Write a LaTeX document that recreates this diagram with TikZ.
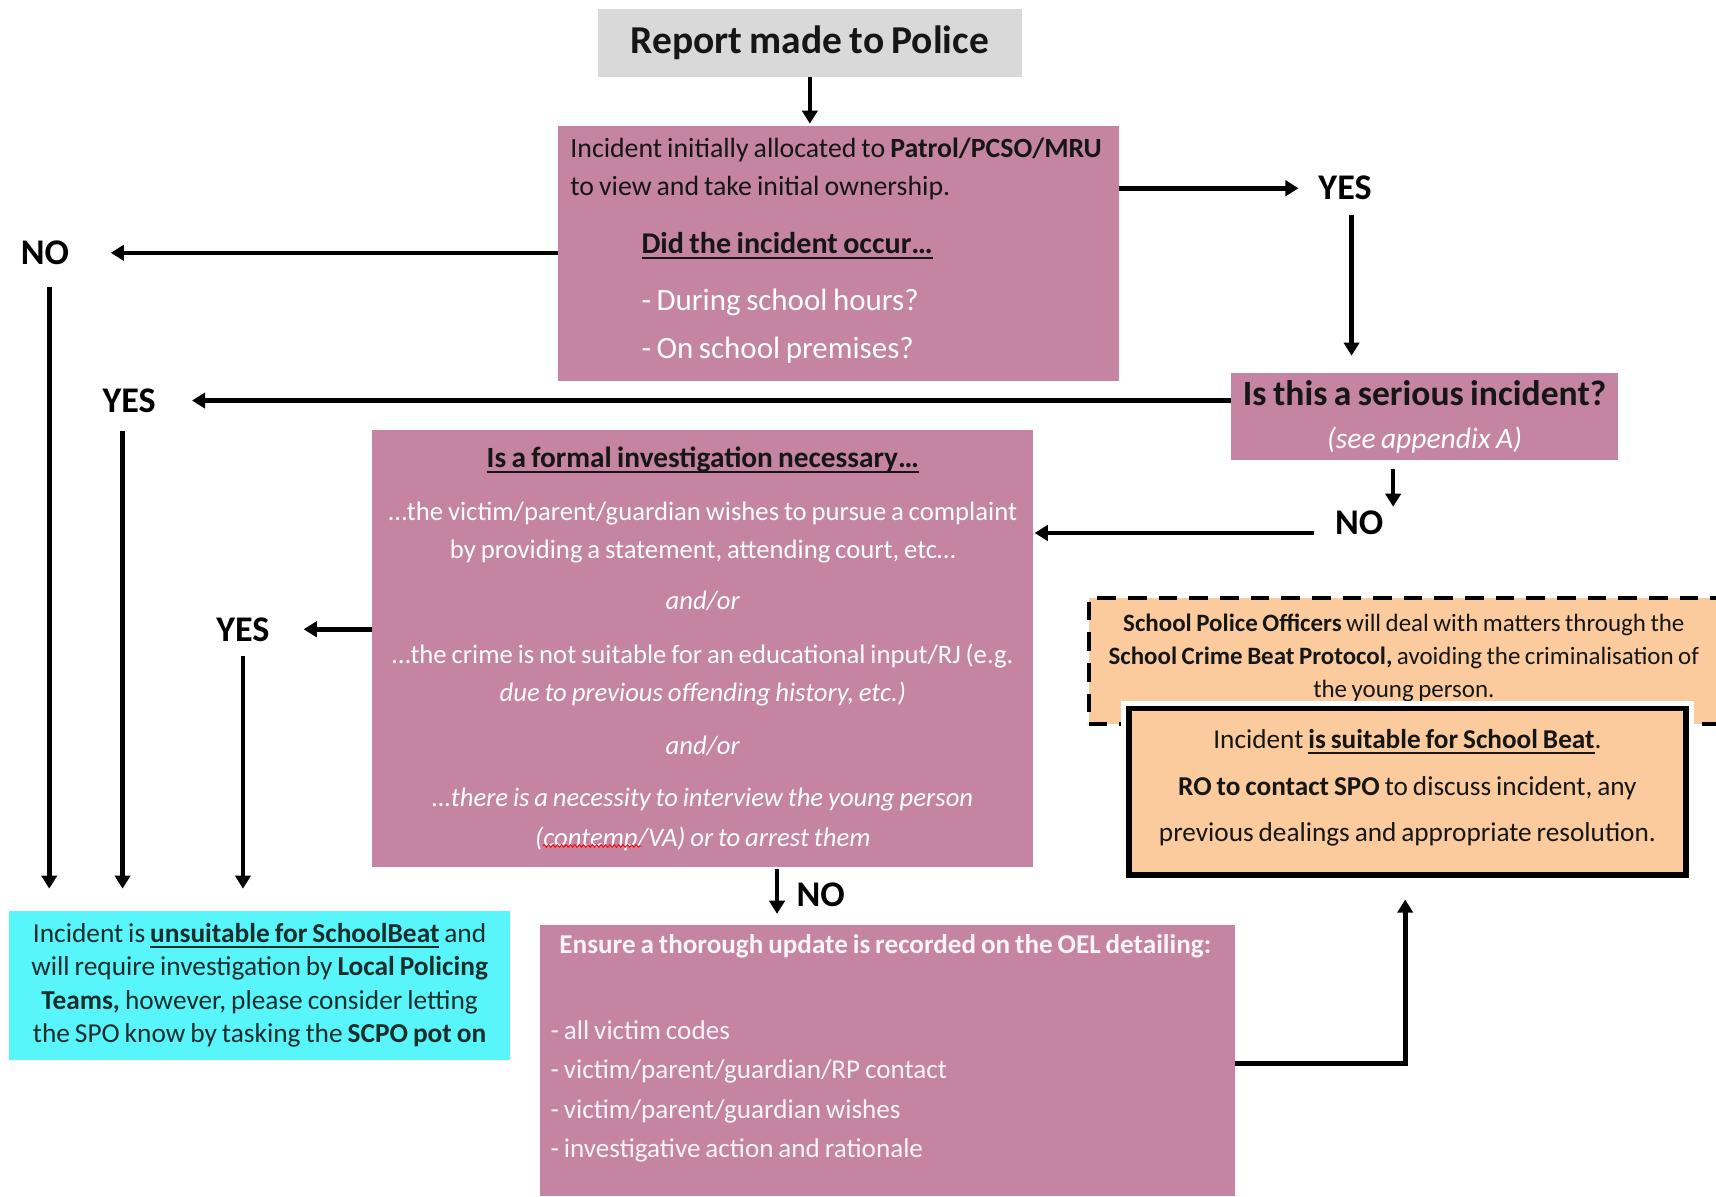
\documentclass[tikz,border=0pt]{standalone}
\usepackage{fontspec}
\setmainfont{Carlito}[WordSpace=0.8]
\usetikzlibrary{arrows.meta,decorations.pathmorphing}

\definecolor{mauve}{RGB}{196,132,162}
\definecolor{greybox}{RGB}{217,217,217}
\definecolor{aqua}{RGB}{88,245,250}
\definecolor{peach}{RGB}{251,203,158}
\definecolor{darktext}{RGB}{22,22,22}
\definecolor{aquatext}{RGB}{25,45,45}

\newsavebox\ulinebox
\newcommand\uln[1]{\sbox\ulinebox{#1}\rlap{\rule[-0.2em]{\wd\ulinebox}{0.065em}}\usebox\ulinebox}

\tikzset{
  arr/.style={line width=4.2pt, -{Triangle[length=12pt,width=14pt]}},
  answer/.style={font=\fontsize{33}{36}\selectfont\bfseries, inner sep=0pt},
  mauvebox/.style={fill=mauve, anchor=north west, inner ysep=0pt},
}

\begin{document}
\begin{tikzpicture}[x=1pt,y=-1pt]
\useasboundingbox (0,0) rectangle (1568,1093);
\clip (0,0) rectangle (1568,1093);
\fill[white] (0,0) rectangle (1568,1093);

% boxes
\node[fill=greybox, inner sep=0pt, minimum width=388pt, minimum height=62pt,
      font=\fontsize{36.1}{40}\selectfont\bfseries, text=darktext] (report) at (740,39) {Report made to Police};

\node[mauvebox, minimum width=512pt, minimum height=233pt] (alloc) at (510,115) {};
\node[anchor=north west, inner sep=0pt, align=left, font=\fontsize{25.4}{35}\selectfont,
      text=darktext] (alloctext) at (521,125.5)
  {Incident initially allocated to \textbf{Patrol/PCSO/MRU}\\
   to view and take initial ownership.\\[18pt]
   {\fontsize{27.5}{35}\selectfont\hspace*{65pt}\textbf{\uln{Did the incident occur…}}}\\[17pt]
   {\fontsize{28.3}{35}\selectfont\hspace*{65pt}\textcolor{white}{- During school hours?}}\\[9pt]
   {\fontsize{28.3}{35}\selectfont\hspace*{65pt}\textcolor{white}{- On school premises?}}};

\node[mauvebox, minimum width=353pt, minimum height=79pt, align=center,
      font=\fontsize{32.5}{39}\selectfont, text=darktext] (serious) at (1125,341)
  {\textbf{Is this a serious incident?}\\
   {\fontsize{27}{39}\selectfont\itshape\color{white}(see appendix A)}};

\node[mauvebox, minimum width=604pt, minimum height=399pt,
      align=center, font=\fontsize{24.4}{35}\selectfont, text=white] (formal) at (340,393)
  {\textcolor{darktext}{\fontsize{26.8}{35}\selectfont\bfseries\uln{Is a formal investigation necessary…}}\\[13pt]
   …the victim/parent/guardian wishes to pursue a complaint\\
   by providing a statement, attending court, etc…\\[12pt]
   \textit{and/or}\\[14pt]
   …the crime is not suitable for an educational input/RJ (e.g.\\
   \textit{due to previous offending history, etc.)}\\[13pt]
   \textit{and/or}\\[13pt]
   \textit{…there is a necessity to interview the young person}\\[1pt]
   \textit{(contemp/VA) or to arrest them}};

\node[anchor=north west, fill=aqua, inner sep=0pt, minimum width=458pt, minimum height=136pt,
      align=center, font=\fontsize{25}{30.7}\selectfont, text=aquatext] (unsuit) at (8,832)
  {Incident is \textbf{\uln{unsuitable for SchoolBeat}} and\\
   will require investigation by \textbf{Local Policing}\\
   \textbf{Teams,} however, please consider letting\\
   the SPO know by tasking the \textbf{SCPO pot on}};

\node[mauvebox, minimum width=635pt, minimum height=248pt] (oel) at (493,845) {};
\node[anchor=north west, inner sep=0pt, align=left, font=\fontsize{24.8}{36}\selectfont,
      text=white!92!mauve] (oeltext) at (503,854)
  {\hspace*{8pt}\textbf{Ensure a thorough update is recorded on the OEL detailing:}\\[42pt]
   - all victim codes\\
   - victim/parent/guardian/RP contact\\
   - victim/parent/guardian wishes\\
   - investigative action and rationale};

\node[anchor=north west, fill=peach, draw=black, line width=3.5pt, dash pattern=on 17pt off 11pt,
      inner sep=0pt, minimum width=585pt, minimum height=115pt, align=center,
      font=\fontsize{22.8}{30}\selectfont, text=darktext] (spo) at (993,545)
  {\hspace*{-9pt}\textbf{School Police Officers} will deal with matters through the\\
   \hspace*{-9pt}\textbf{School Crime Beat Protocol,} avoiding the criminalisation of\\
   \hspace*{-9pt}the young person.\\[-20pt]\mbox{}};

\node[anchor=north west, fill=peach, draw=black, line width=5pt, preaction={draw=white, line width=14pt},
      inner sep=0pt, minimum width=509pt, minimum height=152pt, align=center,
      font=\fontsize{24.9}{42.5}\selectfont, text=darktext] (beat) at (1029,645)
  {Incident \textbf{\uln{is suitable for School Beat}}.\\
   \textbf{RO to contact SPO} to discuss incident, any\\
   previous dealings and appropriate resolution.\\[-31pt]\mbox{}};

% spelling squiggle under contemp
\draw[red, line width=0.8pt, decorate, decoration={snake, amplitude=1.2pt, segment length=4pt}]
  (496,773) -- (586,773);

% answers
\node[answer] (yesA) at (1229,172) {YES};
\node[answer] (noA) at (41,231) {NO};
\node[answer] (yesB) at (118,366) {YES};
\node[answer] (noB) at (1242,478) {NO};
\node[answer] (yesC) at (222,575) {YES};
\node[answer] (noC) at (750,818) {NO};

\coordinate (nodrop) at (1273,463);
\coordinate (noBline) at ([yshift=-9pt]noB.west);
\coordinate (noCline) at (710,0);
\coordinate (bend) at (1284,972);

% arrows
\draw[arr, shorten >=2pt] (report.south) -- (report.south |- alloc.north);
\draw[arr, shorten >=18pt] (alloc.east |- yesA) -- (yesA.west);
\draw[arr, shorten <=13pt, shorten >=16pt] ([xshift=6pt]yesA.south) -- ([xshift=6pt]yesA.south |- serious.north);
\draw[arr, shorten >=38pt] (alloc.west |- noA) -- (noA.east);
\draw[arr, shorten <=20pt, shorten >=20pt] ([xshift=4pt]noA.south) -- ([xshift=4pt]noA.south |- unsuit.north);
\draw[arr, shorten >=33pt] (serious.west |- yesB) -- (yesB.east);
\draw[arr, shorten <=17pt, shorten >=20pt] ([xshift=-6pt]yesB.south) -- ([xshift=-6pt]yesB.south |- unsuit.north);
\draw[arr, shorten <=8pt] (serious.south -| nodrop) -- (nodrop);
\draw[arr, shorten <=19pt, shorten >=1pt] (noBline) -- (formal.east |- noBline);
\draw[arr, shorten >=31pt] (formal.west |- yesC) -- (yesC.east);
\draw[arr, shorten <=13pt, shorten >=20pt] (yesC.south) -- (yesC.south |- unsuit.north);
\draw[arr, shorten <=2pt, shorten >=10pt] (formal.south -| noCline) -- (oel.north -| noCline);
\draw[arr, shorten >=20pt] (oel.east |- bend) -- (bend) -- (bend |- beat.south);
\end{tikzpicture}
\end{document}
